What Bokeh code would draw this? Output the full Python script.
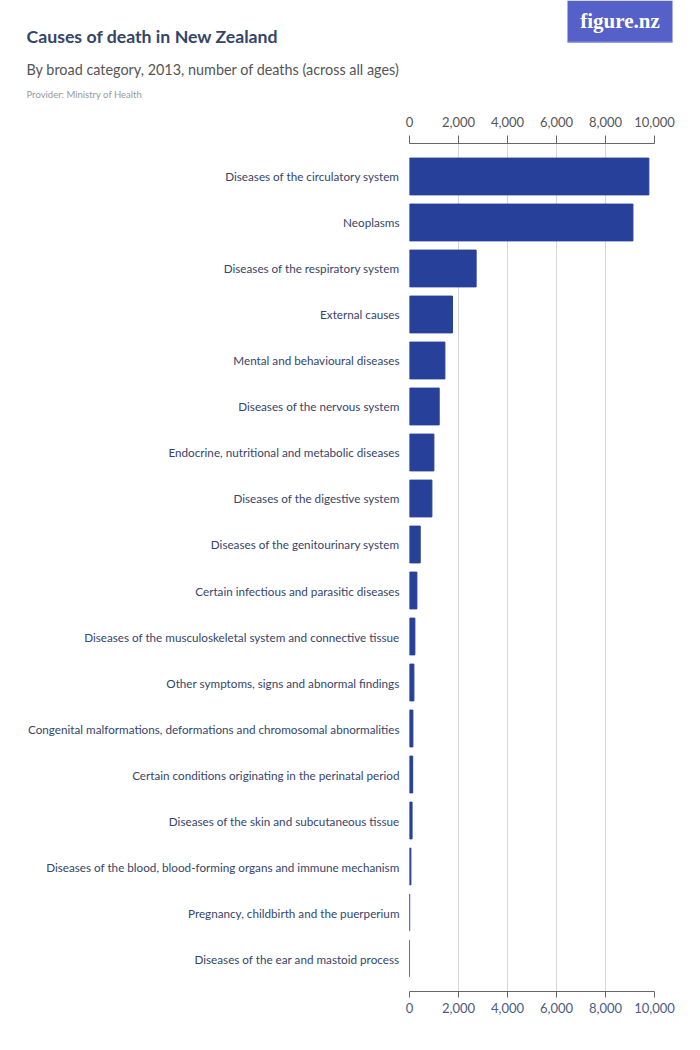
from bokeh.plotting import figure
from bokeh.layouts import column
from bokeh.models import Range1d, LinearAxis, FixedTicker, NumeralTickFormatter
from bokeh.core.properties import value
from bokeh.embed import file_html
from bokeh.resources import INLINE

categories = [
    "Diseases of the circulatory system",
    "Neoplasms",
    "Diseases of the respiratory system",
    "External causes",
    "Mental and behavioural diseases",
    "Diseases of the nervous system",
    "Endocrine, nutritional and metabolic diseases",
    "Diseases of the digestive system",
    "Diseases of the genitourinary system",
    "Certain infectious and parasitic diseases",
    "Diseases of the musculoskeletal system and connective tissue",
    "Other symptoms, signs and abnormal findings",
    "Congenital malformations, deformations and chromosomal abnormalities",
    "Certain conditions originating in the perinatal period",
    "Diseases of the skin and subcutaneous tissue",
    "Diseases of the blood, blood-forming organs and immune mechanism",
    "Pregnancy, childbirth and the puerperium",
    "Diseases of the ear and mastoid process",
]
deaths = [9770, 9120, 2720, 1755, 1445, 1212, 996, 914, 437, 302, 220, 180, 139, 130, 105, 57, 8, 1]
x_ticks = [0, 2000, 4000, 6000, 8000, 10000]

title_text = "Causes of death in New Zealand"
subtitle_text = "By broad category, 2013, number of deaths (across all ages)"
provider_text = "Provider: Ministry of Health"
logo_text = "figure.nz"

FONT = "Lato"
W = 684
HEAD_H = 110
H = 1034 - HEAD_H

# ---------------- header (pixel-space figure) ----------------
hd = figure(width=W, height=HEAD_H, output_backend="svg", toolbar_location=None,
            x_range=Range1d(0, W), y_range=Range1d(HEAD_H, 0),
            x_axis_type=None, y_axis_type=None, title_location=None,
            min_border=0, outline_line_color=None, border_fill_color="white",
            background_fill_color="white", frame_align=False)
hd.grid.visible = False

hd.text(x=[26], y=[36], text=[title_text], text_font=value(FONT), text_font_size="17.7px",
        text_font_style="bold", text_color="#34446a", text_baseline="middle")
hd.text(x=[26], y=[69], text=[subtitle_text], text_font=value(FONT), text_font_size="14.4px",
        text_color="#555555", text_baseline="middle")
hd.text(x=[26], y=[93.5], text=[provider_text], text_font=value(FONT), text_font_size="9.5px",
        text_color="#999999", text_baseline="middle")
hd.quad(left=[567], right=[672], top=[0], bottom=[42], fill_color="#5560c8", line_color=None)
hd.segment(x0=[567], x1=[672], y0=[41.5], y1=[41.5], line_color="#8a92dc", line_width=1)
hd.text(x=[619.5], y=[20.5], text=[logo_text], text_font=value("Liberation Serif"),
        text_font_size="21px", text_font_style="bold", text_color="white",
        text_align="center", text_baseline="middle")

# ---------------- main chart ----------------
FL, FR, FT, FB = 409, 654, 143 - HEAD_H, 991 - HEAD_H
PAD = 0.717
positions = list(range(len(categories)))

p = figure(width=W, height=H, output_backend="svg", toolbar_location=None,
           x_range=Range1d(0, 10000),
           y_range=Range1d(len(categories) - 1 + PAD, -PAD),
           title_location=None,
           min_border_left=FL, min_border_right=W - FR, min_border_top=FT, min_border_bottom=H - FB,
           outline_line_color=None, background_fill_color="white", border_fill_color="white",
           frame_align=False)

p.hbar(y=positions, right=deaths, left=0, height=0.8, color="#27419a")

p.xgrid.ticker = FixedTicker(ticks=x_ticks)
p.xgrid.grid_line_color = "#d6d6d6"
p.xgrid.grid_line_width = 1
p.ygrid.grid_line_color = None

def style_x(ax, color, tick_out, standoff):
    ax.ticker = FixedTicker(ticks=x_ticks)
    ax.formatter = NumeralTickFormatter(format="0,0")
    ax.axis_line_color = "#666666"
    ax.major_tick_line_color = "#666666"
    ax.major_tick_out = tick_out
    ax.major_tick_in = 0
    ax.minor_tick_line_color = None
    ax.major_label_text_font = FONT
    ax.major_label_text_font_size = "13px"
    ax.major_label_text_color = color
    ax.major_label_standoff = standoff

style_x(p.xaxis[0], "#4a5a80", 6, 5)
ta = LinearAxis()
style_x(ta, "#555555", 8, 9)
p.add_layout(ta, "above")

ya = p.yaxis[0]
ya.ticker = FixedTicker(ticks=positions)
ya.major_label_overrides = {i: c for i, c in zip(positions, categories)}
ya.axis_line_color = None
ya.major_tick_line_color = None
ya.major_tick_out = 0
ya.major_tick_in = 0
ya.minor_tick_line_color = None
ya.major_label_text_font = FONT
ya.major_label_text_font_size = "11.7px"
ya.major_label_text_color = "#36446a"
ya.major_label_standoff = 10

layout = column(hd, p, spacing=0)
open("out.html", "w").write(file_html(layout, INLINE))
